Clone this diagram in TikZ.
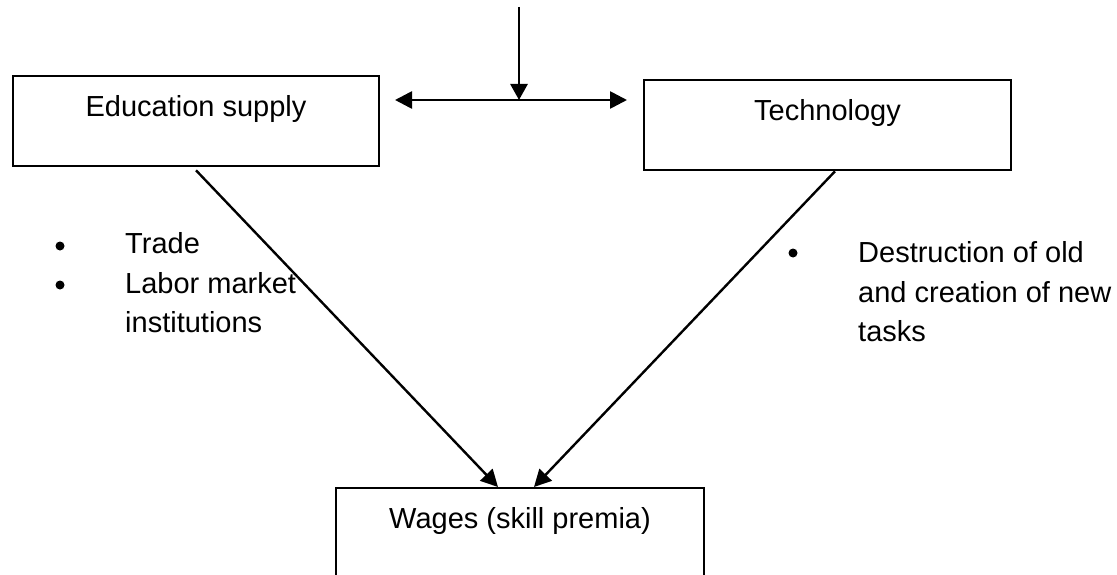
\documentclass[tikz,border=0pt]{standalone}
\usepackage{fontspec}
\setmainfont{Liberation Sans}
\usetikzlibrary{arrows.meta,calc}
\begin{document}
\begin{tikzpicture}[x=1pt,y=-1pt,
  box/.style={draw, line width=2.3pt, minimum width=#1, text height=21pt, text depth=31pt,
    inner xsep=0pt, inner ysep=19pt, anchor=north, font=\fontsize{29}{40}\selectfont},
  txt/.style={inner sep=0pt, anchor=base west, font=\fontsize{29}{40}\selectfont},
  bulletdot/.style={circle, fill=black, minimum size=9pt, inner sep=0pt},
  arr/.style={line width=2.4pt, -{Triangle[length=17pt,width=17pt]}},
  darr/.style={line width=2.7pt, {Triangle[length=17pt,width=17pt]}-{Triangle[length=17pt,width=17pt]}},
  varr/.style={line width=2.8pt, -{Triangle[length=16pt,width=17pt]}}]
\useasboundingbox (0,0) rectangle (1117,575);
% boxes
\node[box=366pt] (edu) at (196,75) {Education supply};
\node[box=367pt] (tech) at (827.5,79) {Technology};
\node[box=368pt] (wages) at (520,487) {Wages (skill premia)};
% top arrows
\coordinate (top) at (519,7);
\coordinate (junction) at (519,100);
\coordinate (hl) at (395,100);
\coordinate (hr) at (627,100);
\draw[varr] (top) -- (junction);
\draw[darr] (hl) -- (hr);
% diagonal arrows
\draw[arr] ([yshift=-3pt]edu.south) -- ([xshift=-22pt]wages.north);
\draw[arr] ([xshift=7.5pt]tech.south) -- ([xshift=14pt]wages.north);
% left bullet list
\node[bulletdot] (b1) at (60,246) {};
\node[bulletdot] (b2) at (60,285) {};
\node[txt] (t1) at (125,253) {Trade};
\node[txt] (t2) at (125,293) {Labor market};
\node[txt] (t3) at (125,332) {institutions};
% right bullet list
\node[bulletdot] (b3) at (793,253) {};
\node[txt] (r1) at (858,262) {Destruction of old};
\node[txt] (r2) at (858,302) {and creation of new};
\node[txt] (r3) at (858,341) {tasks};
\end{tikzpicture}
\end{document}
